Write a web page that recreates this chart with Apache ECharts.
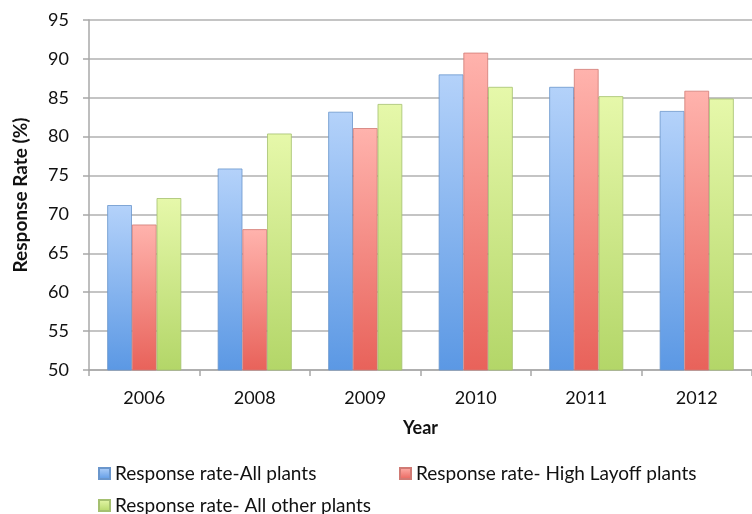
<!DOCTYPE html>
<html>
<head>
<meta charset="utf-8">
<script src="https://cdn.jsdelivr.net/npm/echarts@6/dist/echarts.min.js"></script>
<style>
  html, body { margin: 0; padding: 0; background: #fff; }
  #chart { width: 752px; height: 514px; }
</style>
</head>
<body>
<div id="chart"></div>
<script>
// Survey response rates by year for three plant groups
const years = ['2006', '2008', '2009', '2010', '2011', '2012'];
const allPlants = [71.2, 75.9, 83.2, 88.0, 86.4, 83.3];
const highLayoff = [68.7, 68.1, 81.1, 90.8, 88.7, 85.9];
const otherPlants = [72.1, 80.4, 84.2, 86.4, 85.2, 84.9];
const seriesNames = [
  'Response rate-All plants',
  'Response rate- High Layoff plants',
  'Response rate- All other plants'
];
const yTicks = { min: 50, max: 95, step: 5 };

const FONT = 'Lato';

function grad(top, bottom) {
  return new echarts.graphic.LinearGradient(0, 0, 0, 1, [
    { offset: 0, color: top },
    { offset: 1, color: bottom }
  ]);
}

const palettes = [
  { top: '#b4d2fa', bottom: '#5b98e4', edge: '#6a96cc' },
  { top: '#ffb3ad', bottom: '#e8625a', edge: '#d07a74' },
  { top: '#e6f8aa', bottom: '#b3d668', edge: '#a5c070' }
];

const values = [allPlants, highLayoff, otherPlants];

const chart = echarts.init(document.getElementById('chart'));

const series = values.map((data, i) => ({
  name: seriesNames[i],
  type: 'bar',
  data: data,
  barGap: '0%',
  barCategoryGap: '33%',
  itemStyle: {
    color: grad(palettes[i].top, palettes[i].bottom),
    borderColor: palettes[i].edge,
    borderWidth: 0.8
  }
}));

const legendPos = [
  { left: 93, top: 459 },
  { left: 394, top: 459 },
  { left: 93, top: 491 }
];

chart.setOption({
  animation: false,
  textStyle: { fontFamily: FONT },
  grid: { left: 89, top: 20, width: 671, height: 350 },
  legend: seriesNames.map((name, i) => ({
    data: [name],
    left: legendPos[i].left,
    top: legendPos[i].top,
    icon: 'rect',
    itemWidth: 11,
    itemHeight: 11,
    itemGap: 6,
    selectedMode: false,
    textStyle: { fontFamily: FONT, fontSize: 19, color: '#111' }
  })),
  xAxis: {
    type: 'category',
    data: years,
    name: 'Year',
    nameLocation: 'middle',
    nameGap: 49,
    nameTextStyle: { fontFamily: FONT, fontSize: 18, fontWeight: 'bold', color: '#111' },
    axisLine: { lineStyle: { color: '#a8a8a8', width: 1.5 } },
    axisTick: { show: true, length: 6, lineStyle: { color: '#a8a8a8', width: 1.5 } },
    axisLabel: { fontFamily: FONT, fontSize: 18, color: '#111', margin: 19 }
  },
  yAxis: {
    type: 'value',
    min: yTicks.min,
    max: yTicks.max,
    interval: yTicks.step,
    name: 'Response Rate (%)',
    nameLocation: 'middle',
    nameGap: 59,
    nameTextStyle: { fontFamily: FONT, fontSize: 19, fontWeight: 'bold', color: '#111' },
    axisLine: { show: true, lineStyle: { color: '#a8a8a8', width: 1.5 } },
    axisTick: { show: true, length: 6, lineStyle: { color: '#a8a8a8', width: 1.5 } },
    axisLabel: { fontFamily: FONT, fontSize: 18, color: '#111', margin: 20 },
    splitLine: { lineStyle: { color: '#b0b0b0', width: 1.5 } }
  },
  series: series
});
</script>
</body>
</html>
